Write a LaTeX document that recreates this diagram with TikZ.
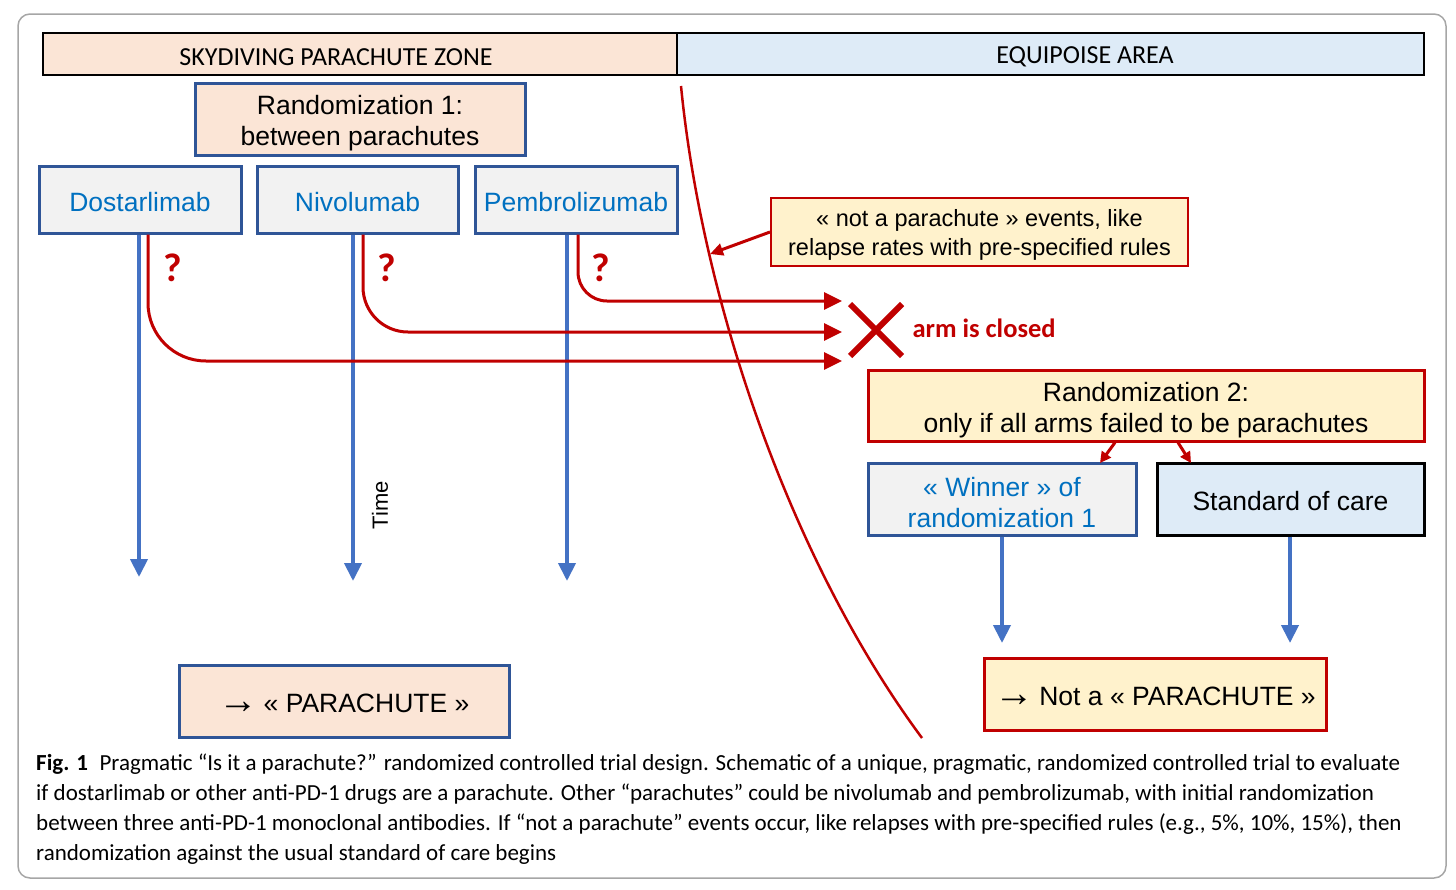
\documentclass[tikz,border=0pt]{standalone}
\usepackage{fontspec}
\setmainfont{Liberation Sans}
\newfontfamily\calibri{Carlito}
\newfontfamily\capfont{Carlito}
\usetikzlibrary{arrows.meta,positioning,shapes.misc}
\definecolor{peach}{HTML}{FBE5D6}
\definecolor{paleblue}{HTML}{DEEBF7}
\definecolor{paleyellow}{HTML}{FFF2CC}
\definecolor{boxgray}{HTML}{F2F2F2}
\definecolor{darkblue}{HTML}{2F5597}
\definecolor{textblue}{HTML}{0070C0}
\definecolor{arrowblue}{HTML}{4472C4}
\definecolor{darkred}{HTML}{C00000}
\newcommand{\toarrow}{\raisebox{-0.04em}{\scalebox{1.5}{→}}}
\newcommand{\firstline}[1]{\rule{0pt}{#1}}

\tikzset{%
  zone/.style={draw=black, line width=1.5pt, minimum height=42pt, inner sep=0pt},
  zone text/.style={font=\calibri\fontsize{26}{30}\selectfont},
  randbox/.style={line width=3pt, align=center, inner sep=0pt, minimum height=72pt, font=\fontsize{26.5}{31}\selectfont},
  oneline/.style={text height=23.5pt, text depth=0pt},
  armbox/.style={draw=darkblue, fill=boxgray, line width=3pt, inner sep=0pt, minimum width=202pt, minimum height=67pt, text=textblue, font=\fontsize{26.5}{31}\selectfont, oneline},
  timeline/.style={arrowblue, line width=4pt, -{Triangle[length=18pt,width=17pt]}},
  closeline/.style={darkred, line width=3pt, -{Triangle[length=18pt,width=17pt]}},
  query/.style={text=darkred, font=\calibri\bfseries\fontsize{40}{40}\selectfont}
}

\begin{document}
\begin{tikzpicture}[x=1pt, y=-1pt]
  \useasboundingbox (0,0) rectangle (1456,889);
  \draw[gray!70, line width=1.5pt, rounded corners=12pt] (18,14) rectangle (1446,878);

  % zones
  \node[zone, fill=peach, minimum width=634pt] (zoneL) at (360,54) {};
  \node[zone, fill=paleblue, minimum width=747pt] (zoneR) at (1050.5,54) {};
  \node[zone text] (zoneLtext) at (336,57) {SKYDIVING PARACHUTE ZONE};
  \node[zone text] (zoneRtext) at (1085,57) {EQUIPOISE AREA};

  % first randomization
  \node[randbox, draw=darkblue, fill=peach, minimum width=330pt] (rand1) at (360,119) {\firstline{28pt}Randomization 1:\\between parachutes};
  \node[armbox] (dos) at (140,199.5) {Dostarlimab};
  \node[armbox, minimum width=201pt] (niv) at (357.5,199.5) {Nivolumab};
  \node[armbox] (pem) at (576,199.5) {Pembrolizumab};

  \coordinate (dosEnd) at (139,577);
  \coordinate (nivEnd) at (353,581);
  \coordinate (pemEnd) at (567,581);
  \draw[timeline] (dos.south -| dosEnd) -- (dosEnd);
  \draw[timeline] (niv.south -| nivEnd) -- (nivEnd);
  \draw[timeline] (pem.south -| pemEnd) -- (pemEnd);
  \node[rotate=90, font=\fontsize{22}{26}\selectfont] (time) at (380,505) {Time};

  % arms closing
  \coordinate (dosStop) at (842,361);
  \coordinate (nivStop) at (842,332);
  \coordinate (pemStop) at (842,301);
  \draw[closeline, rounded corners=58pt] ([xshift=8pt]dos.south) |- (dosStop);
  \draw[closeline, rounded corners=45pt] ([xshift=5.5pt]niv.south) |- (nivStop);
  \draw[closeline, rounded corners=29pt] ([xshift=2pt]pem.south) |- (pemStop);
  \node[query] (dosQ) at (173,268) {?};
  \node[query] (nivQ) at (387,268) {?};
  \node[query] (pemQ) at (601,268) {?};
  \node[cross out, draw=darkred, line width=6pt, minimum size=46pt, inner sep=0pt] (closed) at (876,330) {};
  \node[anchor=west, text=darkred, font=\calibri\bfseries\fontsize{26.5}{30}\selectfont] (closedtext) at (909,328) {arm is closed};

  % boundary between the zones
  \coordinate (edgeTop) at (681,86);
  \coordinate (edgeBot) at (922,738);
  \coordinate (edgeHit) at (710,254);
  \draw[darkred, line width=2.5pt] (edgeTop) .. controls (702,300) and (790,560) .. (edgeBot);
  \node[randbox, draw=darkred, fill=paleyellow, line width=2pt, minimum width=417pt, minimum height=68pt, font=\fontsize{23.5}{29}\selectfont] (note) at (979.5,232) {\firstline{23pt}« not a parachute » events, like\\relapse rates with pre-specified rules};
  \draw[darkred, line width=3pt, -{Triangle[length=13pt,width=12pt]}] (note.west) -- (edgeHit);

  % second randomization
  \node[randbox, draw=darkred, fill=paleyellow, minimum width=556pt, minimum height=71pt] (rand2) at (1146,405.5) {\firstline{28pt}Randomization 2:\\only if all arms failed to be parachutes};
  \node[randbox, draw=darkblue, fill=boxgray, text=textblue, minimum width=268pt] (winner) at (1002,499) {\firstline{25.5pt}« Winner » of\\randomization 1};
  \node[randbox, oneline, draw=black, fill=paleblue, minimum width=267pt] (soc) at (1290.5,499) {Standard of care};
  \coordinate (winnerIn) at (1100,463);
  \coordinate (socIn) at (1191,463);
  \draw[darkred, line width=3pt, -{Triangle[length=11pt,width=11pt]}] ([xshift=-31pt]rand2.south) -- (winnerIn);
  \draw[darkred, line width=3pt, -{Triangle[length=11pt,width=11pt]}] ([xshift=32pt]rand2.south) -- (socIn);

  \coordinate (winnerEnd) at (1002,643);
  \coordinate (socEnd) at (1290,643);
  \draw[timeline] (winner.south) -- (winnerEnd);
  \draw[timeline] (soc.south -| socEnd) -- (socEnd);

  % outcomes
  \node[randbox, oneline, draw=darkred, fill=paleyellow, minimum width=342pt] (notpara) at (1155,694) {\toarrow\hspace{0.2em}Not a « PARACHUTE »};
  \node[randbox, oneline, draw=darkblue, fill=peach, minimum width=330pt] (para) at (344,701) {\toarrow\hspace{0.2em}« PARACHUTE »};

  % caption
  \node[anchor=north west, align=left, inner sep=0pt, font=\capfont\fontsize{23}{30}\selectfont] (caption) at (36,754)
    {{\bfseries Fig. 1}\enspace Pragmatic “Is it a parachute?” randomized controlled trial design. Schematic of a unique, pragmatic, randomized controlled trial to evaluate\\
     if dostarlimab or other anti-PD-1 drugs are a parachute. Other “parachutes” could be nivolumab and pembrolizumab, with initial randomization\\
     between three anti-PD-1 monoclonal antibodies. If “not a parachute” events occur, like relapses with pre-specified rules (e.g., 5\%, 10\%, 15\%), then\\
     randomization against the usual standard of care begins};
\end{tikzpicture}
\end{document}
